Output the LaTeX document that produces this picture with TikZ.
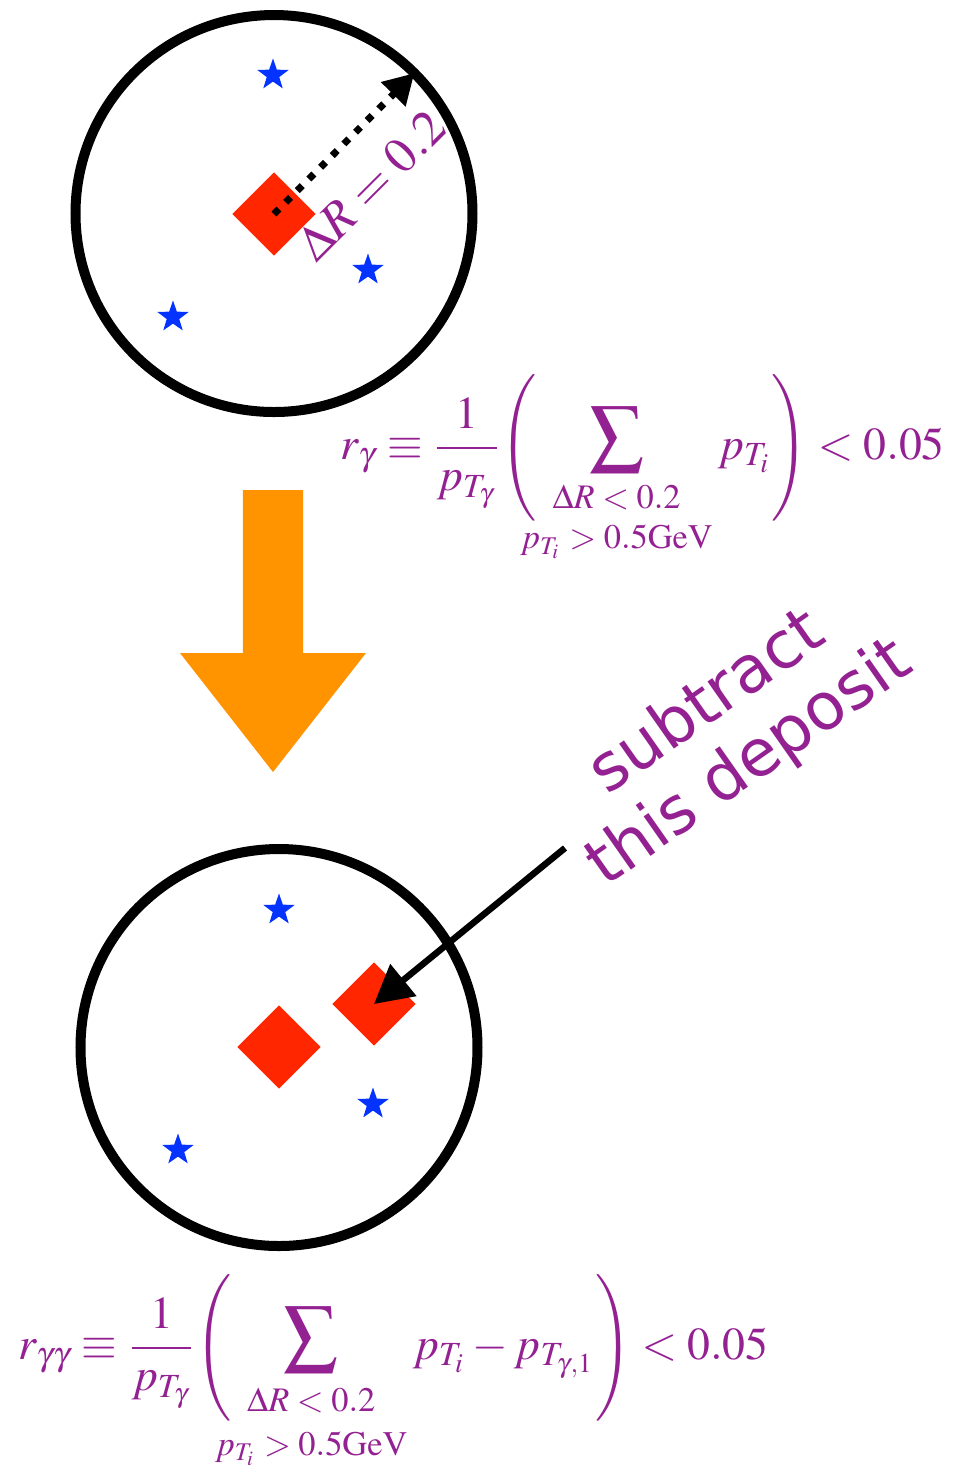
\documentclass[tikz,border=0pt]{standalone}
\usepackage{amsmath}
\usepackage{mathptmx}
\usepackage[no-math]{fontspec}
\newfontfamily\notefont{DejaVu Sans}
\usetikzlibrary{shapes.geometric,arrows.meta}

\definecolor{plum}{RGB}{148,33,146}
\definecolor{depositred}{RGB}{255,38,0}
\definecolor{trackblue}{RGB}{4,51,255}
\definecolor{tangerine}{RGB}{255,147,0}

% крупная сумма, скобки и условия под суммой
\newcommand{\bigsum}{\mathop{\raisebox{0.08cm}{$\vcenter{\hbox{\scalebox{1.17}{$\displaystyle\sum$}}}$}}\limits}
\newcommand{\lpar}{\mathopen{\vcenter{\hbox{\scalebox{1}[1.07]{$\Biggl($}}}}\mkern-6.5mu}
\newcommand{\rpar}{\mathclose{\vcenter{\hbox{\scalebox{1}[1.07]{$\Biggr)$}}}}}
\newcommand{\cutstack}[3][11.5]{\mbox{\fontsize{9.8}{#1}\selectfont\begin{tabular}{@{}c@{}}$#2$\\$#3$\end{tabular}}}

\begin{document}
\begin{tikzpicture}[
  ring/.style={circle, draw, line width=0.1cm, minimum size=3.97cm, outer sep=0pt, inner sep=0pt},
  deposit/.style={diamond, fill=depositred, minimum size=0.84cm, inner sep=0pt},
  track/.style={star, star points=5, star point ratio=2.5, fill=trackblue, minimum size=0.33cm, inner sep=0pt},
  formula/.style={text=plum, font=\fontsize{13}{16}\selectfont, anchor=base west, inner sep=0pt},
]
\useasboundingbox (0,0) rectangle (9.57,-14.65);

% Конус до вычитания
\node[ring] (topring) at (2.74,-2.135) {};
\node[deposit] (topgamma) at (2.74,-2.14) {};
\node[track] (toptrackA) at (2.73,-0.75) {};
\node[track] (toptrackB) at (3.68,-2.70) {};
\node[track] (toptrackC) at (1.73,-3.17) {};

\draw[line width=0.07cm, dash pattern=on 0.07cm off 0.095cm,
  -{Triangle[length=0.30cm,width=0.33cm]}] (topgamma.center) -- (topring.45);
\node[text=plum, font=\fontsize{14.3}{17}\selectfont, rotate=45] (conesize) at (3.71,-1.85) {$\Delta R = 0.2$};

% Изоляция одного фотона
\node[formula] (isotop) at (3.40,-4.59)
  {$\displaystyle r_\gamma \equiv \frac{1}{p_{T_\gamma}}\lpar\bigsum_{\cutstack{\Delta R<0.2}{p_{T_i}>0.5\mathrm{GeV}}} p_{T_i}\rpar < 0.05$};

% Стрелка вниз
\fill[tangerine] (2.43,-4.90) -- (3.03,-4.90) -- (3.03,-6.53) -- (3.66,-6.53)
  -- (2.73,-7.72) -- (1.80,-6.53) -- (2.43,-6.53) -- cycle;

% Конус после вычитания
\node[ring] (botring) at (2.79,-10.475) {};
\node[deposit] (botgamma) at (2.79,-10.47) {};
\node[deposit] (othergamma) at (3.74,-10.04) {};
\node[track] (bottrackA) at (2.79,-9.10) {};
\node[track] (bottrackB) at (3.73,-11.04) {};
\node[track] (bottrackC) at (1.78,-11.50) {};

\node[text=plum, font=\notefont\fontsize{18.5}{21}\selectfont, rotate=35, align=center] (subtractnote) at (7.29,-7.34) {subtract\\this deposit};
\coordinate (notetail) at (5.65,-8.48);
\draw[line width=0.065cm, -{Triangle[length=0.38cm,width=0.40cm]}] (notetail) -- (othergamma.center);

% Изоляция пары фотонов
\node[formula] (isobot) at (0.18,-13.59)
  {$\displaystyle r_{\gamma\gamma} \equiv \frac{1}{p_{T_\gamma}}\lpar\bigsum_{\cutstack[12.6]{\Delta R<0.2}{p_{T_i}>0.5\mathrm{GeV}}} p_{T_i} - p_{T_{\gamma,1}}\rpar < 0.05$};

\end{tikzpicture}
\end{document}
